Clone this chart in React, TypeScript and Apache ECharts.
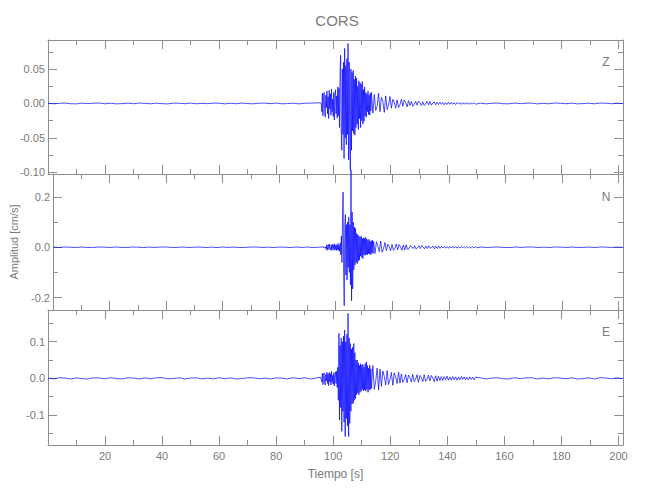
import React, { useEffect, useRef } from "react";
import * as echarts from "echarts";

const TITLE = "CORS";
const X_LABEL = "Tiempo [s]";
const Y_LABEL = "Amplitud [cm/s]";
const COMPONENTS = ["Z", "N", "E"];

const X_MIN = 0;
const X_MAX = 201.6;
const X_MAJOR = [20, 40, 60, 80, 100, 120, 140, 160, 180, 200];
const X_MINOR = [10, 30, 50, 70, 90, 110, 130, 150, 170, 190];

const Z_RANGE = [-0.1025, 0.0922];
const N_RANGE = [-0.249, 0.291];
const E_RANGE = [-0.182, 0.1866];
const Z_MAJOR = [-0.1, -0.05, 0, 0.05];
const Z_MINOR = [-0.075, -0.025, 0.025, 0.075];
const N_MAJOR = [-0.2, 0, 0.2];
const N_MINOR = [-0.1, 0.1];
const E_MAJOR = [-0.1, 0, 0.1];
const E_MINOR = [-0.15, -0.05, 0.05, 0.15];

// sample timing of the four segments (s)
const PRE_START = 0, PRE_STEP = 2;
const BURST_START = 95.6, BURST_STEP = 0.2;
const TAIL_START = 113.9, TAIL_STEP = 0.5;
const POST_START = 151.6, POST_STEP = 2;

// ---- Z component (cm/s) ----
const zPre = [0.0003,-0.0005,0.0002,0.0006,-0.0004,-0.0006,0.0005,-0.0003,0.0004,0.0006,
  -0.0005,0.0003,-0.0006,-0.0002,0.0005,-0.0004,0.0006,0.0002,-0.0005,0.0004,
  -0.0003,-0.0006,0.0005,0.0003,-0.0004,0.0006,-0.0005,0.0002,-0.0003,0.0005,
  0.0004,-0.0006,0.0003,-0.0004,0.0006,-0.0002,-0.0005,0.0004,0.0005,-0.0003,
  0.0006,-0.0005,-0.0002,0.0004,-0.0006,0.0003,0.0005];
const zBurst = [0.001,-0.001,
  -0.012,0.015,-0.018,0.008,0.016,-0.009,-0.020,0.012,-0.006,0.018,-0.015,0.010,-0.022,0.019,-0.008,0.014,
  -0.017,0.021,-0.012,0.006,-0.019,0.016,-0.024,0.013,0.020,-0.015,0.011,-0.021,0.024,-0.018,0.022,
  -0.035,0.045,0.070,-0.040,-0.068,0.050,-0.045,0.060,-0.080,0.080,-0.050,0.055,-0.060,0.065,-0.045,
  0.087,-0.082,0.060,-0.055,-0.097,0.050,-0.068,
  0.045,-0.040,0.048,-0.044,0.035,-0.046,0.040,-0.035,
  0.037,-0.030,0.025,-0.038,0.033,-0.022,0.030,-0.035,0.028,-0.025,0.032,-0.030,0.020,-0.026,0.024,
  -0.018,0.016,-0.020,0.014,-0.012,0.018,-0.016,0.012,-0.017,0.015,-0.011,0.016];
const zTail = [-0.014,0.013,-0.010,-0.004,0.015,-0.012,0.009,0.003,-0.013,0.011,-0.009,-0.002,0.010,
  -0.007,0.006,0.002,-0.007,0.005,-0.006,-0.002,0.006,-0.004,0.005,0.001,-0.005,0.004,-0.003,
  0.003,-0.004,-0.001,0.003,-0.0025,0.0035,0.001,-0.003,0.0025,-0.003,-0.0005,0.003,-0.002,0.003,-0.0025,0.0005,0.0022,-0.002,0.0018,
  -0.0015,0.0018,-0.0012,0.0015,-0.0018,0.0012,-0.0015,0.0018,-0.0012,0.0015,-0.0013,0.0012,-0.0015,0.0013,
  -0.001,0.0012,-0.0014,0.001,-0.0012,0.0011,-0.0012,0.0010,-0.0013,0.0011,-0.0010,0.0012,-0.0011];
const zPost = [0.0005,-0.0006,0.0003,0.0006,-0.0004,-0.0005,0.0006,-0.0003,0.0004,0.0005,
  -0.0006,0.0002,-0.0005,0.0006,0.0003,-0.0004,0.0005,-0.0006,-0.0002,0.0004,
  -0.0005,0.0006,0.0003,-0.0004,0.0005,-0.0003];

// ---- N component (cm/s) ----
const nPre = [0.0006,-0.0010,0.0012,0.0004,-0.0011,0.0009,-0.0005,-0.0012,0.0010,0.0007,
  -0.0009,0.0012,-0.0004,-0.0010,0.0011,0.0005,-0.0012,0.0008,-0.0006,0.0010,
  0.0012,-0.0009,-0.0004,0.0011,-0.0012,0.0006,0.0009,-0.0010,0.0004,-0.0011,
  0.0012,-0.0006,0.0008,-0.0012,-0.0005,0.0010,0.0011,-0.0009,0.0005,-0.0012,
  0.0009,0.0004,-0.0011,0.0012,-0.0007,0.0010,-0.0012];
const nBurst = [0.0015,-0.002,0.0018,-0.0015,0.002,
  -0.008,0.010,-0.012,0.006,0.011,-0.009,0.013,-0.007,-0.011,0.009,-0.013,0.012,-0.006,0.010,-0.012,0.014,
  -0.009,0.008,-0.013,0.011,-0.010,0.015,-0.012,0.009,-0.016,0.018,
  -0.03,0.045,-0.06,0.12,0.219,-0.10,-0.232,0.08,0.13,-0.11,0.09,-0.13,0.10,-0.08,0.12,-0.10,0.09,-0.15,
  0.307,-0.212,0.14,-0.165,0.10,-0.09,
  0.08,-0.07,0.075,-0.06,0.055,-0.065,0.05,-0.055,
  0.045,-0.05,0.04,-0.035,0.045,-0.04,0.035,-0.045,0.038,-0.03,0.035,-0.032,0.04,-0.028,0.033,
  -0.03,0.028,-0.025,0.032,-0.027,0.024,-0.03,0.026,-0.022,0.028,-0.025,0.023];
const nTail = [-0.024,0.022,0.006,-0.018,0.025,-0.02,-0.005,0.019,
  -0.013,0.012,0.003,-0.014,0.011,-0.012,-0.004,0.013,-0.010,0.011,0.002,-0.012,0.009,-0.011,0.010,-0.008,
  -0.006,0.007,0.002,-0.005,0.006,-0.007,-0.002,0.006,-0.005,0.007,0.001,-0.006,0.005,-0.005,0.006,-0.004,
  -0.001,0.005,-0.006,0.004,-0.005,0.005,
  -0.004,0.0035,-0.003,0.004,-0.0035,0.003,-0.004,0.0035,-0.003,0.0038,-0.0032,0.003,-0.0035,0.0028,
  -0.003,0.0032,-0.0028,0.003,-0.0025,0.003,-0.0028,0.0025,-0.003,0.0026,-0.0024,0.0028,-0.0022];
const nPost = [0.0011,-0.0012,0.0006,0.0012,-0.0009,-0.0010,0.0012,-0.0006,0.0009,0.0011,
  -0.0012,0.0005,-0.0010,0.0012,0.0006,-0.0009,0.0011,-0.0012,-0.0005,0.0009,
  -0.0011,0.0012,0.0006,-0.0009,0.0010,-0.0006];

// ---- E component (cm/s) ----
const ePre = [0.0008,-0.0015,0.0017,0.0006,-0.0016,0.0012,-0.0009,-0.0018,0.0015,0.0010,
  -0.0013,0.0018,-0.0007,-0.0015,0.0016,0.0008,-0.0017,0.0012,-0.0010,0.0015,
  0.0018,-0.0013,-0.0006,0.0016,-0.0018,0.0009,0.0013,-0.0015,0.0007,-0.0016,
  0.0017,-0.0009,0.0012,-0.0018,-0.0008,0.0015,0.0016,-0.0013,0.0008,-0.0017,
  0.0013,0.0006,-0.0016,0.0018,-0.0010,0.0015,-0.0018];
const eBurst = [0.003,-0.0035,
  -0.010,0.014,-0.017,0.008,0.015,-0.012,-0.018,0.011,-0.007,0.017,-0.014,0.012,-0.020,0.016,-0.009,
  0.013,-0.018,0.019,-0.011,0.008,-0.016,0.015,-0.021,0.012,0.018,-0.014,0.020,-0.025,0.030,
  -0.06,0.123,-0.114,0.09,-0.08,0.11,-0.145,0.10,-0.09,0.115,-0.12,0.132,-0.159,0.10,-0.11,0.12,-0.13,
  0.177,-0.159,0.11,-0.123,0.095,-0.09,0.08,
  -0.07,0.085,-0.068,0.095,-0.06,0.07,-0.055,0.05,
  -0.045,0.05,-0.04,0.042,-0.045,0.035,-0.038,0.04,-0.035,0.036,-0.03,0.038,-0.034,0.03,-0.032,
  0.04,-0.035,0.045,-0.03,0.035,-0.038,0.028,-0.032,0.036,-0.03,0.026,-0.028];
const eTail = [0.035,-0.03,-0.008,0.028,-0.032,
  0.025,-0.022,0.02,0.005,-0.018,0.021,-0.017,-0.004,0.016,-0.019,0.015,0.003,-0.014,0.017,
  -0.013,0.012,-0.011,-0.003,0.01,-0.012,0.009,0.002,-0.01,0.011,-0.009,-0.002,0.01,-0.011,0.008,
  0.002,-0.009,0.01,-0.008,-0.002,0.009,-0.007,0.008,0.001,-0.009,0.007,-0.008,0.006,-0.006,
  0.005,-0.006,0.005,-0.004,0.006,-0.005,0.004,-0.005,0.005,-0.004,0.004,-0.005,0.004,-0.004,0.005,
  -0.003,0.004,-0.004,0.003,-0.004,0.004,-0.003,0.003,-0.004,0.003];
const ePost = [0.0016,-0.0018,0.0009,0.0017,-0.0013,-0.0015,0.0018,-0.0009,0.0013,0.0016,
  -0.0018,0.0007,-0.0015,0.0017,0.0009,-0.0013,0.0016,-0.0018,-0.0008,0.0013,
  -0.0016,0.0018,0.0009,-0.0013,0.0015,-0.0010];

function buildTrace(pre: number[], burst: number[], tail: number[], post: number[]) {
  const out: number[][] = [];
  pre.forEach((v, i) => out.push([PRE_START + PRE_STEP * i, v]));
  burst.forEach((v, i) => out.push([BURST_START + BURST_STEP * i, v]));
  tail.forEach((v, i) => out.push([TAIL_START + TAIL_STEP * i, v]));
  post.forEach((v, i) => out.push([POST_START + POST_STEP * i, v]));
  return out;
}

const FONT = "'Liberation Sans', Arial, sans-serif";
const AXIS_COLOR = "#8e8e8e";
const TEXT_COLOR = "#7a7a7a";
const LINE_COLOR = "#0000ff";

export default function App() {
  const ref = useRef<HTMLDivElement>(null);
  useEffect(() => {
    if (!ref.current) return;
    const chart = echarts.init(ref.current, undefined, { renderer: "svg" });

    const grids = [
      { left: 48, top: 40, width: 575, height: 134 },
      { left: 48, top: 174, width: 575, height: 136 },
      { left: 48, top: 310, width: 575, height: 135 },
    ];
    const ranges = [Z_RANGE, N_RANGE, E_RANGE];
    const majors = [Z_MAJOR, N_MAJOR, E_MAJOR];
    const minors = [Z_MINOR, N_MINOR, E_MINOR];
    const decimals = [2, 1, 1];
    const traces = [
      buildTrace(zPre, zBurst, zTail, zPost),
      buildTrace(nPre, nBurst, nTail, nPost),
      buildTrace(ePre, eBurst, eTail, ePost),
    ];

    const xAxes: any[] = [];
    const yAxes: any[] = [];
    const series: any[] = [];
    const lineStyle = { color: AXIS_COLOR, width: 1 };

    grids.forEach((_, g) => {
      const xBase = {
        type: "value", gridIndex: g, min: X_MIN, max: X_MAX,
        splitLine: { show: false }, axisLabel: { show: false },
        axisLine: { show: false, onZero: false }, axisTick: { show: false },
      };
      const isLast = g === grids.length - 1;
      const mainX = xAxes.length;
      xAxes.push({
        ...xBase, position: "bottom",
        axisLine: { show: true, onZero: false, lineStyle },
        axisTick: { show: true, inside: true, length: 9, lineStyle, customValues: X_MAJOR },
        axisLabel: isLast
          ? { show: true, customValues: X_MAJOR, color: TEXT_COLOR, fontSize: 11, fontFamily: FONT, margin: 5, formatter: (v: number) => String(v) }
          : { show: false },
        name: isLast ? X_LABEL : "",
        nameLocation: "middle", nameGap: 23,
        nameTextStyle: { color: TEXT_COLOR, fontSize: 12, fontFamily: FONT },
      });
      xAxes.push({
        ...xBase, position: "top",
        axisLine: { show: true, onZero: false, lineStyle },
        axisTick: { show: true, inside: true, length: 9, lineStyle, customValues: X_MAJOR },
      });
      xAxes.push({
        ...xBase, position: "bottom",
        axisTick: { show: true, inside: true, length: 5, lineStyle, customValues: X_MINOR },
      });
      xAxes.push({
        ...xBase, position: "top",
        axisTick: { show: true, inside: true, length: 5, lineStyle, customValues: X_MINOR },
      });

      const yBase = {
        type: "value", gridIndex: g, min: ranges[g][0], max: ranges[g][1],
        splitLine: { show: false }, axisLabel: { show: false },
        axisLine: { show: false, onZero: false }, axisTick: { show: false },
      };
      const mainY = yAxes.length;
      yAxes.push({
        ...yBase, position: "left",
        axisLine: { show: true, onZero: false, lineStyle },
        axisTick: { show: true, inside: true, length: 9, lineStyle, customValues: majors[g] },
        axisLabel: {
          show: true, customValues: majors[g], color: TEXT_COLOR, fontSize: 11, fontFamily: FONT, margin: 3,
          formatter: (v: number) => v.toFixed(decimals[g]),
        },
        name: g === 1 ? Y_LABEL : "",
        nameLocation: "middle", nameGap: 34, nameRotate: 90,
        nameTextStyle: { color: TEXT_COLOR, fontSize: 11, fontFamily: FONT },
      });
      yAxes.push({
        ...yBase, position: "right",
        axisLine: { show: true, onZero: false, lineStyle },
        axisTick: { show: true, inside: true, length: 9, lineStyle, customValues: majors[g] },
      });
      yAxes.push({
        ...yBase, position: "left",
        axisTick: { show: true, inside: true, length: 5, lineStyle, customValues: minors[g] },
      });
      yAxes.push({
        ...yBase, position: "right",
        axisTick: { show: true, inside: true, length: 5, lineStyle, customValues: minors[g] },
      });

      series.push({
        type: "line", name: COMPONENTS[g], xAxisIndex: mainX, yAxisIndex: mainY,
        data: traces[g], showSymbol: false, symbol: "none", silent: true, clip: false,
        lineStyle: { color: LINE_COLOR, width: 0.7 },
      });
    });

    const letterY = [62, 197, 332];
    const graphic: any[] = [
      {
        type: "text", x: 337, y: 20,
        style: { text: TITLE, fill: TEXT_COLOR, fontSize: 15, fontFamily: FONT, textAlign: "center", textVerticalAlign: "middle" },
      },
      ...COMPONENTS.map((c, i) => ({
        type: "text", x: 606, y: letterY[i],
        style: { text: c, fill: TEXT_COLOR, fontSize: 12, fontFamily: FONT, textAlign: "center", textVerticalAlign: "middle" },
      })),
    ];

    chart.setOption({
      animation: false,
      backgroundColor: "#ffffff",
      grid: grids,
      xAxis: xAxes,
      yAxis: yAxes,
      series,
      graphic,
    });
    return () => chart.dispose();
  }, []);

  return (
    <div
      ref={ref}
      style={{ position: "fixed", left: 0, top: 0, width: 650, height: 500, background: "#fff" }}
    />
  );
}
